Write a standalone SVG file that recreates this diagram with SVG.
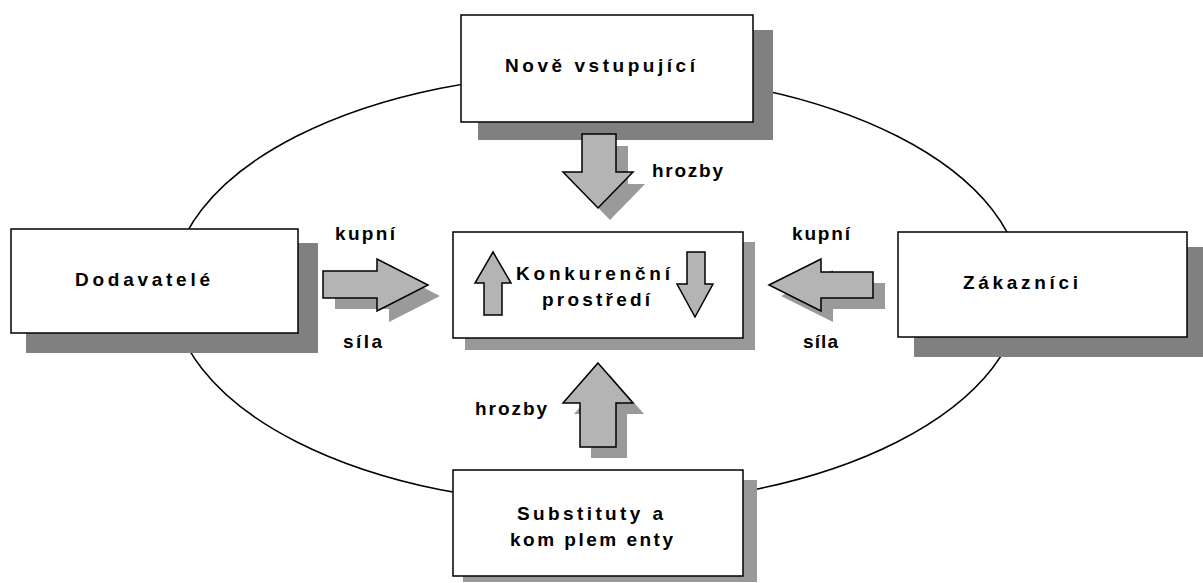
<svg xmlns="http://www.w3.org/2000/svg" width="1203" height="583" viewBox="0 0 1203 583">
<style>
.box{fill:#fff;stroke:#000;stroke-width:1.5}
.sh{fill:#808080}
.shl{fill:#999}
.arr{fill:#b4b4b4;stroke:#000;stroke-width:1.5;stroke-linejoin:miter}
.ash{fill:#9a9a9a}
.t{font-family:"Liberation Sans",Arial,sans-serif;font-weight:bold;font-size:19px;fill:#000}
</style>
<rect width="1203" height="583" fill="#fff"/>
<g id="connectors">
<ellipse cx="597" cy="289" rx="425" ry="216" fill="none" stroke="#000" stroke-width="1.5"/>
</g>
<g id="node-nove">
<rect class="sh" x="478" y="30" width="295" height="110"/>
<rect class="box" x="461" y="15" width="292" height="107"/>
<text class="t" x="505" y="72" textLength="190" lengthAdjust="spacing">Nově vstupující</text>
</g>
<g id="node-dodavatele">
<rect class="sh" x="26" y="243" width="292" height="110"/>
<rect class="box" x="11" y="229" width="287" height="104"/>
<text class="t" x="75" y="286" textLength="135" lengthAdjust="spacing">Dodavatelé</text>
</g>
<g id="node-zakaznici">
<rect class="sh" x="914" y="247" width="289" height="110"/>
<rect class="box" x="898" y="232" width="289" height="105"/>
<text class="t" x="963" y="289" textLength="115" lengthAdjust="spacing">Zákazníci</text>
</g>
<g id="node-substituty">
<rect class="shl" x="463" y="480" width="294" height="102"/>
<rect class="box" x="453" y="470" width="290" height="106"/>
<text class="t" x="517" y="520" textLength="146" lengthAdjust="spacing">Substituty a</text>
<text class="t" x="510" y="546" textLength="163" lengthAdjust="spacing">kom plem enty</text>
</g>
<g id="node-konkurencni">
<rect class="shl" x="465" y="242" width="290" height="108"/>
<rect class="box" x="453" y="232" width="290" height="106"/>
<polygon class="arr" points="493,252 511,283 502,283 502,315 484,315 484,283 475,283"/>
<polygon class="arr" points="687,252 705,252 705,284 713,284 695,317 677,284 687,284"/>
<text class="t" x="516" y="280" textLength="154" lengthAdjust="spacing">Konkurenční</text>
<text class="t" x="542" y="306" textLength="108" lengthAdjust="spacing">prostředí</text>
</g>
<g id="arrows">
<polygon class="ash" points="594,146 628,146 628,184 645,184 610,220 575,184 594,184"/>
<polygon class="arr" points="582,134 616,134 616,172 633,172 598,208 563,172 582,172"/>
<text class="t" x="652" y="177" textLength="71" lengthAdjust="spacing">hrozby</text>

<polygon class="ash" points="335,282 389,282 389,270 440,296 389,322 389,309 335,309"/>
<polygon class="arr" points="323,271 377,271 377,259 428,285 377,311 377,298 323,298"/>
<text class="t" x="335" y="240" textLength="60" lengthAdjust="spacing">kupní</text>
<text class="t" x="343" y="348" textLength="39" lengthAdjust="spacing">síla</text>

<polygon class="ash" points="781,296 833,270 833,283 885,283 885,309 833,309 833,322"/>
<polygon class="arr" points="769,285 821,259 821,272 873,272 873,298 821,298 821,311"/>
<text class="t" x="792" y="240" textLength="58" lengthAdjust="spacing">kupní</text>
<text class="t" x="803" y="348" textLength="35" lengthAdjust="spacing">síla</text>

<polygon class="ash" points="609,374 644,414 627,414 627,458 591,458 591,414 574,414"/>
<polygon class="arr" points="598,363 633,403 616,403 616,447 580,447 580,403 563,403"/>
<text class="t" x="475" y="415" textLength="72" lengthAdjust="spacing">hrozby</text>
</g>
</svg>
